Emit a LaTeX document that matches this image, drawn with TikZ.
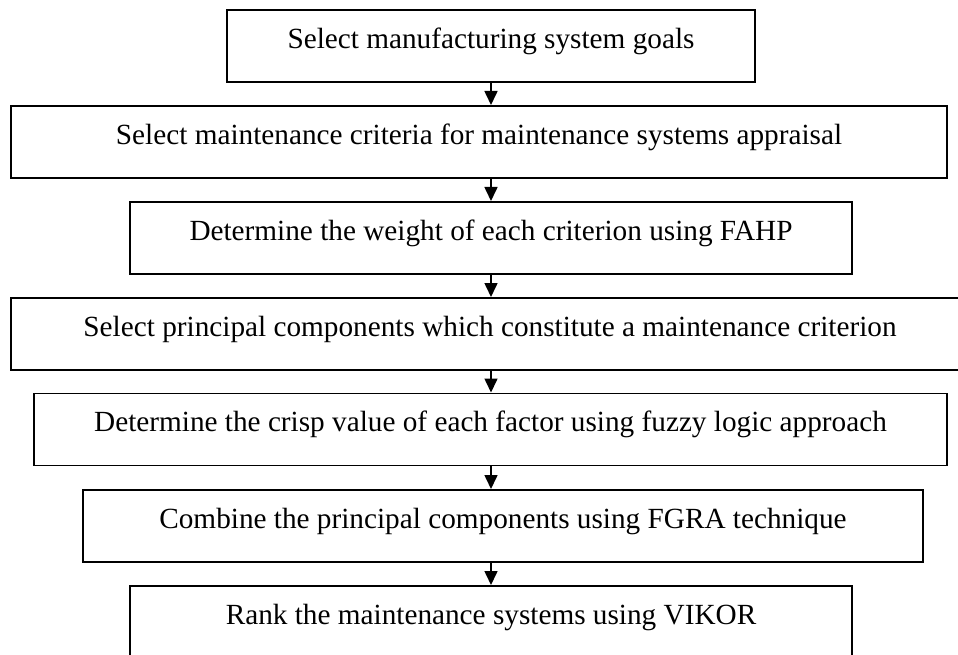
\documentclass[tikz,border=0pt]{standalone}
\usepackage{fontspec}
\setmainfont{Liberation Serif}
\usetikzlibrary{arrows.meta}
\begin{document}
\begin{tikzpicture}[x=1pt,y=-1pt,
  stepbox/.style={draw, line width=1.6pt, rectangle, inner sep=0pt,
    text height=38.5pt, text depth=33.5pt, anchor=north,
    font=\fontsize{29.25}{35}\selectfont},
  arr/.style={line width=1.6pt, -{Triangle[length=14pt,width=13pt]}}]
\useasboundingbox (0,0) rectangle (958,655);
\clip (0,0) rectangle (958,655);
\coordinate (ax) at (491,0);
\node[stepbox, minimum width=528pt] (b1) at (491,9) {Select manufacturing system goals};
\node[stepbox, minimum width=936pt] (b2) at (479,105) {Select maintenance criteria for maintenance systems appraisal};
\node[stepbox, minimum width=722pt] (b3) at (491,201) {Determine the weight of each criterion using FAHP};
\node[stepbox, minimum width=958pt] (b4) at (490,297) {Select principal components which constitute a maintenance criterion};
\node[stepbox, minimum width=913pt] (b5) at (490.5,392.5) {Determine the crisp value of each factor using fuzzy logic approach};
\node[stepbox, minimum width=840pt] (b6) at (503,489) {Combine the principal components using FGRA technique};
\node[stepbox, minimum width=722pt] (b7) at (491,585) {Rank the maintenance systems using VIKOR};
\draw[arr] (b1.south -| ax) -- (b2.north -| ax);
\draw[arr] (b2.south -| ax) -- (b3.north -| ax);
\draw[arr] (b3.south -| ax) -- (b4.north -| ax);
\draw[arr] (b4.south -| ax) -- (b5.north -| ax);
\draw[arr] (b5.south -| ax) -- (b6.north -| ax);
\draw[arr] (b6.south -| ax) -- (b7.north -| ax);
\end{tikzpicture}
\end{document}
